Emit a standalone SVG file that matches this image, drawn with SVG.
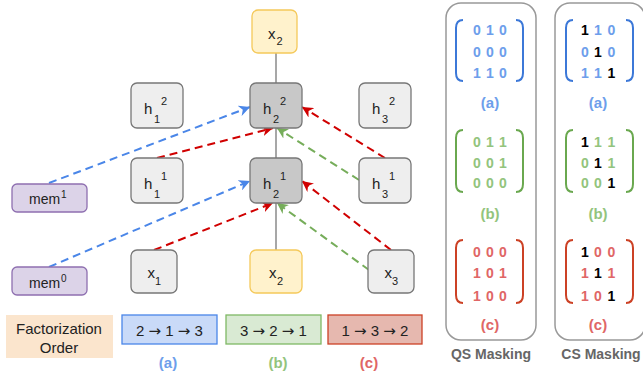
<svg xmlns="http://www.w3.org/2000/svg" width="643" height="379" viewBox="0 0 643 379">
<style>
text{font-family:"Liberation Sans",Arial,sans-serif;fill:#222}
.n{font-size:15px}
.s{font-size:11px}
.gray{fill:#eeeeee;stroke:#777;stroke-width:1.3}
.dark{fill:#c8c8c8;stroke:#777;stroke-width:1.3}
.yel{fill:#fff2cc;stroke:#f5c95a;stroke-width:1.3}
.mem{fill:#dcd3e8;stroke:#8e6fb0;stroke-width:1.3}
.solid{stroke:#8a8a8a;stroke-width:1.5;fill:none}
.db{stroke:#4a86e8;stroke-width:2;stroke-dasharray:8 5;fill:none}
.dr{stroke:#d00000;stroke-width:2;stroke-dasharray:8 5;fill:none}
.dg{stroke:#76ad5a;stroke-width:2;stroke-dasharray:8 5;fill:none}
.panel{fill:none;stroke:#999;stroke-width:1.5}
.d text{font-size:14px;font-weight:bold;text-anchor:middle}
text.bl,.bl text{fill:#6d9eeb}
text.gr,.gr text{fill:#93c47d}
text.rd,.rd text{fill:#e06666}
.d text.k{fill:#000}
.bb{stroke:#3c78d8;stroke-width:2;fill:none}
.bg{stroke:#6aa84f;stroke-width:2;fill:none}
.br{stroke:#cc4125;stroke-width:2;fill:none}
.lab{font-size:15px;font-weight:bold;text-anchor:middle}
.ttl{font-size:14px;font-weight:bold;fill:#666;text-anchor:middle}
.ord{font-size:15px;text-anchor:middle}
.arr{font-family:"DejaVu Sans",sans-serif}
</style>
<defs>
<marker id="ab" viewBox="0 0 10 10" refX="10" refY="5" markerWidth="11" markerHeight="11" markerUnits="userSpaceOnUse" orient="auto"><path d="M0,0 L10,5 L0,10 L3,5 z" fill="#4a86e8"/></marker>
<marker id="ar" viewBox="0 0 10 10" refX="10" refY="5" markerWidth="11" markerHeight="11" markerUnits="userSpaceOnUse" orient="auto"><path d="M0,0 L10,5 L0,10 L3,5 z" fill="#d00000"/></marker>
<marker id="ag" viewBox="0 0 10 10" refX="10" refY="5" markerWidth="11" markerHeight="11" markerUnits="userSpaceOnUse" orient="auto"><path d="M0,0 L10,5 L0,10 L3,5 z" fill="#76ad5a"/></marker>
</defs>

<g id="connectors">
<line class="solid" x1="276" y1="53" x2="276" y2="83"/>
<line class="solid" x1="276" y1="128" x2="276" y2="158"/>
<line class="solid" x1="276" y1="203" x2="276" y2="250"/>
<line class="db" x1="49" y1="183" x2="250" y2="107" marker-end="url(#ab)"/>
<line class="db" x1="49" y1="267" x2="250" y2="181" marker-end="url(#ab)"/>
<line class="dr" x1="157" y1="158" x2="273" y2="128" marker-end="url(#ar)"/>
<line class="dr" x1="154" y1="250" x2="273" y2="203" marker-end="url(#ar)"/>
<line class="dr" x1="385" y1="158" x2="302" y2="107" marker-end="url(#ar)"/>
<line class="dr" x1="391" y1="250" x2="302" y2="181" marker-end="url(#ar)"/>
<line class="dg" x1="359" y1="180" x2="277" y2="128" marker-end="url(#ag)"/>
<line class="dg" x1="369" y1="270" x2="277" y2="203" marker-end="url(#ag)"/>
</g>

<g id="x2top"><rect class="yel" x="252" y="10" width="45" height="43" rx="6"/><text class="n" x="268" y="38.5">x</text><text class="s" x="276.5" y="45">2</text></g>
<g id="h1_2"><rect class="gray" x="131" y="83" width="52" height="45" rx="6"/><text class="n" x="144" y="113.5">h</text><text class="s" x="154" y="122.5">1</text><text class="s" x="161" y="105">2</text></g>
<g id="h2_2"><rect class="dark" x="250" y="83" width="52" height="45" rx="6"/><text class="n" x="263" y="113.5">h</text><text class="s" x="273" y="122.5">2</text><text class="s" x="280" y="105">2</text></g>
<g id="h3_2"><rect class="gray" x="359" y="83" width="52" height="45" rx="6"/><text class="n" x="372" y="113.5">h</text><text class="s" x="382" y="122.5">3</text><text class="s" x="389" y="105">2</text></g>
<g id="h1_1"><rect class="gray" x="131" y="158" width="52" height="45" rx="6"/><text class="n" x="144" y="188.5">h</text><text class="s" x="154" y="197.5">1</text><text class="s" x="161" y="180">1</text></g>
<g id="h2_1"><rect class="dark" x="250" y="158" width="52" height="45" rx="6"/><text class="n" x="263" y="188.5">h</text><text class="s" x="273" y="197.5">2</text><text class="s" x="280" y="180">1</text></g>
<g id="h3_1"><rect class="gray" x="359" y="158" width="52" height="45" rx="6"/><text class="n" x="372" y="188.5">h</text><text class="s" x="382" y="197.5">3</text><text class="s" x="389" y="180">1</text></g>
<g id="mem1"><rect class="mem" x="12" y="184" width="75" height="28" rx="5"/><text x="29" y="204" style="font-size:14px">mem</text><text x="61" y="198" style="font-size:10px">1</text></g>
<g id="mem0"><rect class="mem" x="12" y="267" width="75" height="28" rx="5"/><text x="29" y="288" style="font-size:14px">mem</text><text x="61" y="281.5" style="font-size:10px">0</text></g>
<g id="x1"><rect class="gray" x="131" y="250" width="46" height="43" rx="6"/><text class="n" x="147.5" y="278">x</text><text class="s" x="155" y="285">1</text></g>
<g id="x2bot"><rect class="yel" x="250" y="250" width="52" height="43" rx="6"/><text class="n" x="269" y="278">x</text><text class="s" x="277" y="285">2</text></g>
<g id="x3"><rect class="gray" x="368" y="250" width="46" height="43" rx="6"/><text class="n" x="384.5" y="278">x</text><text class="s" x="392" y="285">3</text></g>

<g id="factorization"><rect x="6" y="315" width="107" height="43" fill="#fbe5cd"/><text class="ord" x="59" y="334">Factorization</text><text class="ord" x="59" y="353">Order</text></g>
<g id="orderA"><rect x="122" y="315" width="95" height="29" fill="#c9daf8" stroke="#4a86e8" stroke-width="1.3"/><text class="ord" x="169.5" y="335.5">2 <tspan class="arr">→</tspan> 1 <tspan class="arr">→</tspan> 3</text><text class="lab bl" x="168" y="368">(a)</text></g>
<g id="orderB"><rect x="226" y="315" width="95" height="29" fill="#d9ead3" stroke="#7fb865" stroke-width="1.3"/><text class="ord" x="273.5" y="335.5">3 <tspan class="arr">→</tspan> 2 <tspan class="arr">→</tspan> 1</text><text class="lab gr" x="278" y="368">(b)</text></g>
<g id="orderC"><rect x="328" y="315" width="94" height="29" fill="#e6b8af" stroke="#cc4125" stroke-width="1.3"/><text class="ord" x="375" y="335.5">1 <tspan class="arr">→</tspan> 3 <tspan class="arr">→</tspan> 2</text><text class="lab rd" x="369" y="368">(c)</text></g>

<g id="qs">
<rect class="panel" x="446" y="3" width="90" height="337" rx="15"/>
<path class="bb" d="M463,20 Q456,20 456,28 L456,73 Q456,81 463,81 M516,20 Q523,20 523,28 L523,73 Q523,81 516,81"/>
<g class="d bl"><text x="477" y="35">0</text><text x="490" y="35">1</text><text x="503" y="35">0</text><text x="477" y="57">0</text><text x="490" y="57">0</text><text x="503" y="57">0</text><text x="477" y="78">1</text><text x="490" y="78">1</text><text x="503" y="78">0</text></g>
<text class="lab bl" x="490" y="108">(a)</text>
<path class="bg" d="M463,130 Q456,130 456,138 L456,184 Q456,192 463,192 M516,130 Q523,130 523,138 L523,184 Q523,192 516,192"/>
<g class="d gr"><text x="477" y="146.5">0</text><text x="490" y="146.5">1</text><text x="503" y="146.5">1</text><text x="477" y="167.5">0</text><text x="490" y="167.5">0</text><text x="503" y="167.5">1</text><text x="477" y="188">0</text><text x="490" y="188">0</text><text x="503" y="188">0</text></g>
<text class="lab gr" x="490" y="219">(b)</text>
<path class="br" d="M463,240 Q456,240 456,248 L456,295 Q456,303 463,303 M516,240 Q523,240 523,248 L523,295 Q523,303 516,303"/>
<g class="d rd"><text x="477" y="256.5">0</text><text x="490" y="256.5">0</text><text x="503" y="256.5">0</text><text x="477" y="278">1</text><text x="490" y="278">0</text><text x="503" y="278">1</text><text x="477" y="301">1</text><text x="490" y="301">0</text><text x="503" y="301">0</text></g>
<text class="lab rd" x="490" y="330">(c)</text>
<text class="ttl" x="491" y="359">QS Masking</text>
</g>

<g id="cs">
<rect class="panel" x="555" y="3" width="90" height="337" rx="15"/>
<path class="bb" d="M573,20 Q566,20 566,28 L566,73 Q566,81 573,81 M626,20 Q633,20 633,28 L633,73 Q633,81 626,81"/>
<g class="d bl"><text class="k" x="585" y="35">1</text><text x="598" y="35">1</text><text x="611.5" y="35">0</text><text x="585" y="57">0</text><text class="k" x="598" y="57">1</text><text x="611.5" y="57">0</text><text x="585" y="78">1</text><text x="598" y="78">1</text><text class="k" x="611.5" y="78">1</text></g>
<text class="lab bl" x="598" y="108">(a)</text>
<path class="bg" d="M573,130 Q566,130 566,138 L566,184 Q566,192 573,192 M626,130 Q633,130 633,138 L633,184 Q633,192 626,192"/>
<g class="d gr"><text class="k" x="585" y="146.5">1</text><text x="598" y="146.5">1</text><text x="611.5" y="146.5">1</text><text x="585" y="167.5">0</text><text class="k" x="598" y="167.5">1</text><text x="611.5" y="167.5">1</text><text x="585" y="188">0</text><text x="598" y="188">0</text><text class="k" x="611.5" y="188">1</text></g>
<text class="lab gr" x="598" y="219">(b)</text>
<path class="br" d="M573,240 Q566,240 566,248 L566,295 Q566,303 573,303 M626,240 Q633,240 633,248 L633,295 Q633,303 626,303"/>
<g class="d rd"><text class="k" x="585" y="256.5">1</text><text x="598" y="256.5">0</text><text x="611.5" y="256.5">0</text><text x="585" y="278">1</text><text class="k" x="598" y="278">1</text><text x="611.5" y="278">1</text><text x="585" y="301">1</text><text x="598" y="301">0</text><text class="k" x="611.5" y="301">1</text></g>
<text class="lab rd" x="598" y="330">(c)</text>
<text class="ttl" x="601" y="359">CS Masking</text>
</g>
</svg>
